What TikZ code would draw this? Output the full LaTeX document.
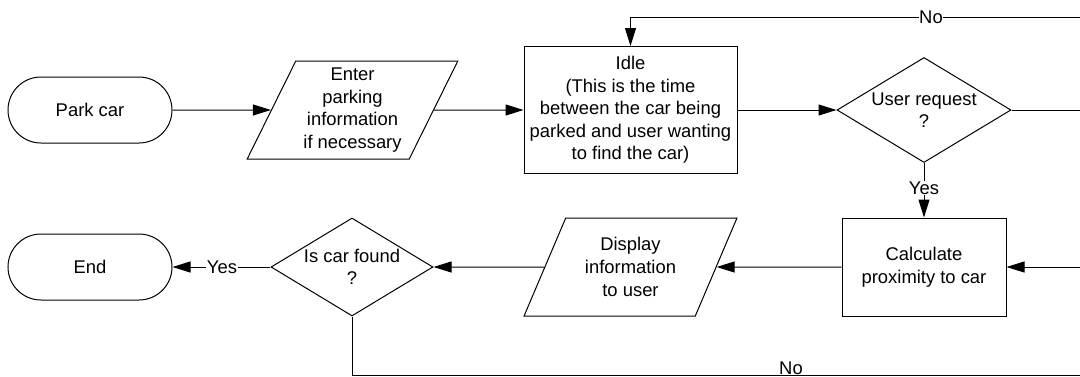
\documentclass[tikz,border=0pt]{standalone}
\usepackage{fontspec}
\setmainfont{Liberation Sans}
\usetikzlibrary{shapes.geometric,arrows.meta}
\begin{document}
\begin{tikzpicture}[x=1pt,y=1pt,
  every node/.style={font=\fontsize{18.4}{22.6}\selectfont, align=center},
  term/.style={draw, line width=1pt, rectangle, rounded corners=33pt, minimum width=164pt, minimum height=66pt, inner sep=0pt},
  proc/.style={draw, line width=1pt, rectangle, inner sep=0pt},
  io/.style={draw, line width=1pt, trapezium, trapezium left angle=63.5, trapezium right angle=116.5, trapezium stretches=true, inner sep=0pt, minimum height=98pt},
  dec/.style={draw, line width=1pt, diamond, inner sep=0pt},
  txt/.style={inner sep=0pt},
  conn/.style={line width=1pt, -{Triangle[length=18pt,width=11pt]}},
  line/.style={line width=1pt},
  lbl/.style={fill=white, inner sep=1pt}
]
\useasboundingbox (0,0) rectangle (1080,-376);
\clip (0,0) rectangle (1080,-376);

% nodes
\node[term] (park) at (90,-110) {Park car};
\node[io, minimum width=211pt] (enter) at (352.5,-110) {Enter\\parking\\information\\if necessary};
\node[proc, minimum width=213pt, minimum height=127pt] (idle) at (630.5,-110) {Idle\\(This is the time\\between the car being\\parked and user wanting\\to find the car)};
\node[dec, minimum width=174pt, minimum height=105pt] (req) at (924,-110) {};
\node[txt] (reqt) at (924,-110) {User request\\?};

\node[term] (end) at (90,-267) {End};
\node[dec, minimum width=162pt, minimum height=98pt] (found) at (352,-267) {};
\node[txt] (foundt) at (352,-267) {Is car found\\?};
\node[io, minimum width=213pt] (disp) at (630.5,-267) {Display\\information\\to user};
\node[proc, minimum width=164pt, minimum height=98pt] (calc) at (924,-267) {Calculate\\proximity to car};

% off-canvas coordinates
\coordinate (offA) at (1100,-110);
\coordinate (offTop) at (1100,-17);
\coordinate (offB) at (1100,-267);
\coordinate (offBot) at (1100,-375);

% connectors
\draw[conn] (park) -- (enter);
\draw[conn] (enter) -- (idle);
\draw[conn] (idle) -- (req);
\draw[line] (req.east) -- (offA);
\draw[conn] (offTop) -| (idle.north);
\node[lbl, inner sep=0.5pt] (no1) at (931,-17) {No};
\draw[conn] (req.south) -- (calc.north);
\node[lbl, inner sep=0.5pt] (yes1) at (924,-188) {Yes};
\draw[conn] (offB) -- (calc.east);
\draw[conn] (calc) -- (disp);
\draw[conn] (disp) -- (found);
\draw[conn] (found) -- (end);
\node[lbl, inner sep=0.5pt] (yes2) at (222,-267) {Yes};
\draw[line] (found.south) |- (offBot);
\node[lbl, anchor=base, inner xsep=1.5pt, inner ysep=1.2pt] (no2) at (791,-374) {No};
\end{tikzpicture}
\end{document}
